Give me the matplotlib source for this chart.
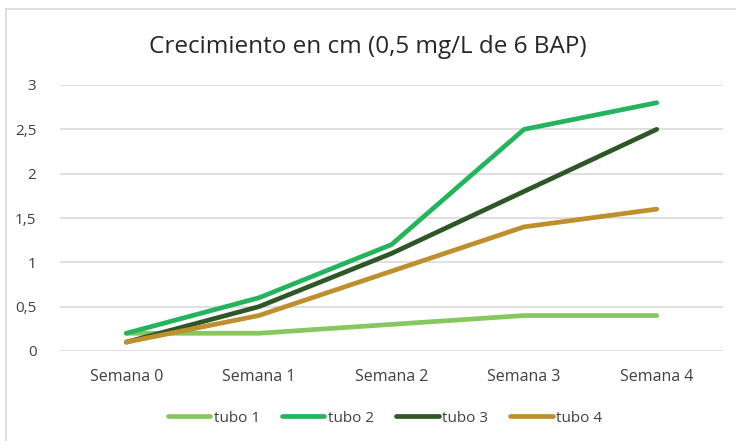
import matplotlib
matplotlib.use("Agg")
import matplotlib.pyplot as plt
from matplotlib.lines import Line2D

categories = ["Semana 0", "Semana 1", "Semana 2", "Semana 3", "Semana 4"]
tubo1 = [0.2, 0.2, 0.3, 0.4, 0.4]
tubo2 = [0.2, 0.6, 1.2, 2.5, 2.8]
tubo3 = [0.1, 0.5, 1.1, 1.8, 2.5]
tubo4 = [0.1, 0.4, 0.9, 1.4, 1.6]
series_names = ["tubo 1", "tubo 2", "tubo 3", "tubo 4"]
colors = ["#86C75F", "#25B35E", "#2F5626", "#BE8F2E"]
yticks = [0, 0.5, 1, 1.5, 2, 2.5, 3]
ytick_labels = ["0", "0,5", "1", "1,5", "2", "2,5", "3"]

plt.rcParams['font.family'] = ['Open Sans', 'DejaVu Sans']

fig = plt.figure(figsize=(7.36, 4.41), dpi=100)
W, H = 736, 441
# chart border
fig.add_artist(Line2D([6/W, 6/W], [0, 1 - 8.5/H], color="#D9D9D9", lw=1.2, transform=fig.transFigure))
fig.add_artist(Line2D([6/W, 1], [1 - 8.5/H, 1 - 8.5/H], color="#D9D9D9", lw=1.2, transform=fig.transFigure))

ax = fig.add_axes([60/W, 1 - 351/H, (723 - 60)/W, (351 - 85)/H])
x = list(range(len(categories)))
for vals, name, c in zip([tubo1, tubo2, tubo3, tubo4], series_names, colors):
    ax.plot(x, vals, color=c, lw=3.4, label=name, solid_capstyle="round", solid_joinstyle="round")

ax.set_xlim(-0.5, len(categories) - 0.5)
ax.set_ylim(0, 3)
ax.set_xticks(x)
ax.set_xticklabels(categories, fontsize=11.5, color="#404040")
ax.set_yticks(yticks)
ax.set_yticklabels(ytick_labels, fontsize=11, color="#404040")
ax.tick_params(axis="both", length=0)
ax.tick_params(axis="x", pad=13)
ax.tick_params(axis="y", pad=17)
ax.grid(axis="y", color="#D9D9D9", lw=1.2)
ax.set_axisbelow(True)
for s in ax.spines.values():
    s.set_visible(False)

fig.text(368/W, 1 - 47/H, "Crecimiento en cm (0,5 mg/L de 6 BAP)", ha="center", va="center",
         fontsize=17.5, color="#262626")

leg = fig.legend(loc="center", bbox_to_anchor=(385/W, 1 - 418/H), ncol=4, frameon=False,
                 fontsize=11, handlelength=2.8, handletextpad=0.25, columnspacing=1.4)
for t in leg.get_texts():
    t.set_color("#404040")

fig.savefig("out.png", dpi=100)
